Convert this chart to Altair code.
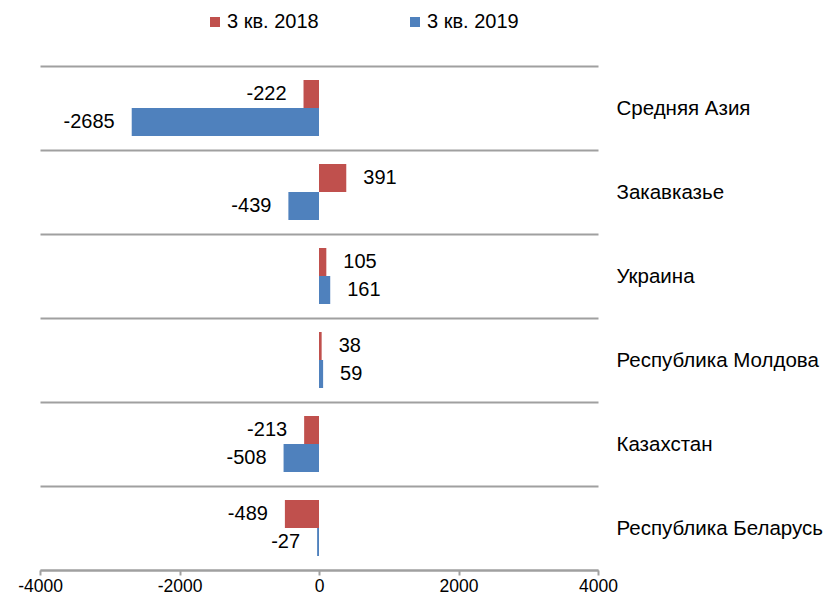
import altair as alt
import pandas as pd

regions = ["Средняя Азия", "Закавказье", "Украина", "Республика Молдова", "Казахстан", "Республика Беларусь"]
series = ["3 кв. 2018", "3 кв. 2019"]
values_2018 = [-222, 391, 105, 38, -213, -489]
values_2019 = [-2685, -439, 161, 59, -508, -27]
colors = ["#C0504D", "#4F81BD"]
x_ticks = [-4000, -2000, 0, 2000, 4000]

rows = []
for r, a, b in zip(regions, values_2018, values_2019):
    rows.append({"region": r, "series": series[0], "value": a})
    rows.append({"region": r, "series": series[1], "value": b})
df = pd.DataFrame(rows)

FONT = "Liberation Sans"

y_enc = alt.Y("region:N", sort=regions,
              scale=alt.Scale(paddingInner=0, paddingOuter=0),
              axis=alt.Axis(orient="right", title=None, domain=False, ticks=False,
                            grid=True, tickBand="extent", gridColor="#a0a0a0", gridWidth=2,
                            labelPadding=18, labelFontSize=20.5, labelColor="#000000",
                            labelFont=FONT, labelAlign="left", labelLimit=400))
yoff = alt.YOffset("series:N", sort=series,
                   scale=alt.Scale(paddingOuter=0.5, paddingInner=0))
x_enc = alt.X("value:Q", scale=alt.Scale(domain=[-4000, 4000], nice=False),
              axis=alt.Axis(values=x_ticks, title=None, grid=False, domainColor="#a0a0a0",
                            domainWidth=2, tickColor="#a0a0a0", tickWidth=2, tickSize=5,
                            labelFontSize=17.5, labelColor="#000000", labelFont=FONT,
                            labelPadding=2, labelFlush=False,
                            labelExpr="toString(datum.value)"))

bars = alt.Chart(df).mark_bar(size=28).encode(
    x=x_enc,
    y=y_enc,
    yOffset=yoff,
    color=alt.Color("series:N", sort=series,
                    scale=alt.Scale(domain=series, range=colors),
                    legend=alt.Legend(title=None, orient="none", legendX=165, legendY=-54,
                                      direction="horizontal", symbolType="square",
                                      symbolSize=100, labelFontSize=20, labelFont=FONT,
                                      labelColor="#000000", columnPadding=86,
                                      labelOffset=2, padding=0)),
)

base_text = alt.Chart(df).transform_calculate(label="toString(datum.value)")

pos = base_text.transform_filter("datum.value >= 0").mark_text(
    align="left", baseline="middle", dx=17, fontSize=20, font=FONT, color="#000000"
).encode(x=x_enc, y=y_enc, yOffset=yoff, text="label:N")

neg = base_text.transform_filter("datum.value < 0").mark_text(
    align="right", baseline="middle", dx=-17, fontSize=20, font=FONT, color="#000000"
).encode(x=x_enc, y=y_enc, yOffset=yoff, text="label:N")

chart = (
    alt.layer(bars, pos, neg)
    .properties(
        width=558, height=504,
        autosize=alt.AutoSizeParams(type="none"),
        padding={"left": 32, "top": 58, "right": 227, "bottom": 28},
    )
    .configure(font=FONT)
    .configure_view(stroke=None, strokeWidth=0)
    .configure_axisX(grid=False)
)

chart.save("out.html", embed_options={"renderer": "svg", "actions": False})
